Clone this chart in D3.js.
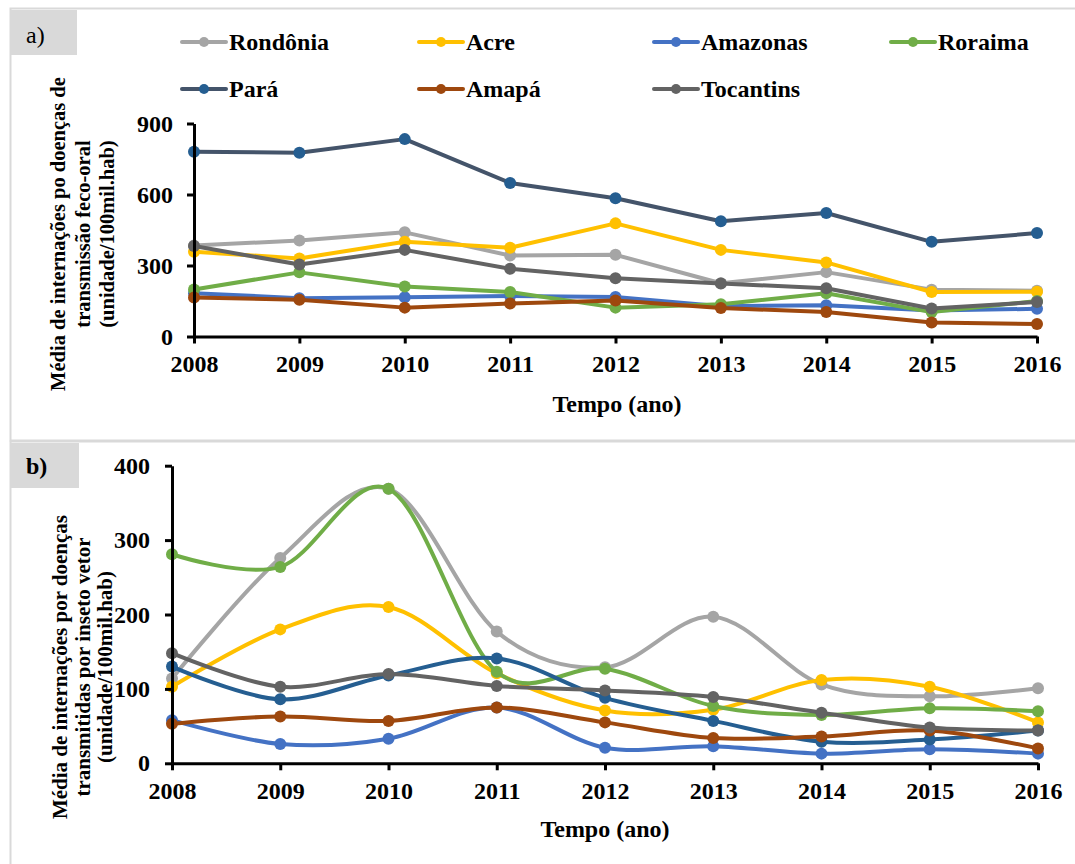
<!DOCTYPE html>
<html>
<head>
<meta charset="utf-8">
<script src="https://cdn.jsdelivr.net/npm/d3@7"></script>
<style>
  body { margin: 0; background: #fff; }
  text { font-family: "Liberation Serif", "Times New Roman", serif; }
</style>
</head>
<body>
<svg id="chart" width="1075" height="864"></svg>
<script>
// ---- data ----
const years = [2008, 2009, 2010, 2011, 2012, 2013, 2014, 2015, 2016];
const states = ["Rondônia", "Acre", "Amazonas", "Roraima", "Pará", "Amapá", "Tocantins"];
const lineColorsA = ["#A5A5A5", "#FFC000", "#4472C4", "#70AD47", "#44546A", "#9E480E", "#636363"];
const lineColorsB = ["#A5A5A5", "#FFC000", "#4472C4", "#70AD47", "#255E91", "#9E480E", "#636363"];
const markerColors = ["#A5A5A5", "#FFC000", "#4472C4", "#70AD47", "#255E91", "#9E480E", "#636363"];

// a) fecal-oral transmission, per 100k inhabitants
const fecoOralRondonia  = [384, 406, 440, 342, 345, 225, 272, 198, 193];
const fecoOralAcre      = [358, 330, 400, 375, 478, 366, 313, 188, 189];
const fecoOralAmazonas  = [183, 162, 166, 171, 167, 128, 132, 110, 117];
const fecoOralRoraima   = [199, 271, 211, 188, 122, 136, 183, 103, 150];
const fecoOralPara      = [781, 776, 834, 649, 584, 487, 522, 400, 437];
const fecoOralAmapa     = [165, 155, 122, 139, 152, 120, 104, 59, 53];
const fecoOralTocantins = [382, 304, 366, 286, 246, 224, 204, 118, 146];

// b) insect-vector transmission, per 100k inhabitants
const vetorRondonia  = [114, 276, 369, 177, 129, 197, 106, 90, 101];
const vetorAcre      = [103, 180, 210, 121, 71, 72, 112, 103, 55];
const vetorAmazonas  = [58, 26, 33, 75, 21, 23, 13, 19, 13];
const vetorRoraima   = [281, 264, 369, 123, 127, 77, 65, 74, 70];
const vetorPara      = [130, 86, 118, 141, 88, 57, 29, 32, 44];
const vetorAmapa     = [53, 63, 57, 75, 55, 34, 36, 44, 20];
const vetorTocantins = [148, 103, 120, 104, 98, 89, 68, 48, 44];

const ticksA = [0, 300, 600, 900];
const ticksB = [0, 100, 200, 300, 400];

const seriesA = [fecoOralRondonia, fecoOralAcre, fecoOralAmazonas, fecoOralRoraima,
                 fecoOralPara, fecoOralAmapa, fecoOralTocantins];
const seriesB = [vetorRondonia, vetorAcre, vetorAmazonas, vetorRoraima,
                 vetorPara, vetorAmapa, vetorTocantins];

const svg = d3.select("#chart");

// ---- panel frames ----
svg.append("rect").attr("x", 10.5).attr("y", 8.5).attr("width", 1080).attr("height", 432)
  .attr("fill", "none").attr("stroke", "#D9D9D9").attr("stroke-width", 2);
svg.append("rect").attr("x", 10.5).attr("y", 441.5).attr("width", 1080).attr("height", 440)
  .attr("fill", "none").attr("stroke", "#D9D9D9").attr("stroke-width", 2);

svg.append("rect").attr("x", 11).attr("y", 10).attr("width", 66).attr("height", 45).attr("fill", "#D9D9D9");
svg.append("text").attr("x", 26).attr("y", 43).attr("font-size", 24).text("a)");
svg.append("rect").attr("x", 11).attr("y", 443).attr("width", 68).attr("height", 45).attr("fill", "#D9D9D9");
svg.append("text").attr("x", 26).attr("y", 474).attr("font-size", 24).attr("font-weight", "bold").text("b)");

// ---- legend ----
const legendCols = [182, 419, 654, 891];
const legendRows = [42, 89];
const legend = svg.append("g");
states.forEach((s, i) => {
  const col = i < 4 ? i : i - 4;
  const row = i < 4 ? 0 : 1;
  const x0 = legendCols[col], y0 = legendRows[row];
  const g = legend.append("g").attr("transform", `translate(${x0},${y0})`);
  g.append("line").attr("x1", 0).attr("x2", 44).attr("y1", 0).attr("y2", 0)
    .attr("stroke", lineColorsA[i]).attr("stroke-width", 4).attr("stroke-linecap", "round");
  g.append("circle").attr("cx", 22).attr("cy", 0).attr("r", 5).attr("fill", markerColors[i]);
  g.append("text").attr("x", 47).attr("y", 8).attr("font-size", 24).attr("font-weight", "bold").text(s);
});

// ---- panel drawing ----
function drawPanel(opts) {
  const x = d3.scaleLinear().domain([2008, 2016]).range(opts.xRange);
  const y = d3.scaleLinear().domain(opts.yDomain).range(opts.yRange);
  const g = svg.append("g");

  const line = d3.line()
    .x((d, i) => x(years[i]))
    .y(d => y(d))
    .curve(opts.curve);

  opts.series.forEach((vals, i) => {
    g.append("path").datum(vals)
      .attr("d", line)
      .attr("fill", "none")
      .attr("stroke", opts.lineColors[i])
      .attr("stroke-width", 4)
      .attr("stroke-linejoin", "round");
    g.selectAll(null).data(vals).enter().append("circle")
      .attr("cx", (d, j) => x(years[j]))
      .attr("cy", d => y(d))
      .attr("r", 6)
      .attr("fill", markerColors[i]);
  });

  const xAxis = g.append("g").attr("transform", `translate(0,${opts.yRange[0]})`)
    .call(d3.axisBottom(x).tickValues(years).tickFormat(d3.format("d"))
      .tickSize(7).tickSizeOuter(0).tickPadding(opts.xTickPad));
  const yAxis = g.append("g").attr("transform", `translate(${opts.xRange[0]},0)`)
    .call(d3.axisLeft(y).tickValues(opts.yTicks).tickSize(7).tickSizeOuter(0).tickPadding(opts.yTickPad));

  [xAxis, yAxis].forEach(ax => {
    ax.select(".domain").attr("stroke", "#000").attr("stroke-width", 3);
    ax.selectAll(".tick line").attr("stroke", "#000").attr("stroke-width", 3);
    ax.selectAll(".tick text").attr("font-family", "Liberation Serif, Times New Roman, serif")
      .attr("font-size", 24).attr("font-weight", "bold").attr("fill", "#000");
  });

  g.append("text")
    .attr("x", opts.xTitlePos[0]).attr("y", opts.xTitlePos[1])
    .attr("text-anchor", "middle").attr("font-size", 24).attr("font-weight", "bold")
    .text("Tempo (ano)");

  opts.yTitle.forEach((t, k) => {
    g.append("text")
      .attr("transform", `translate(${opts.yTitleX[k]},${opts.yTitleY}) rotate(-90)`)
      .attr("text-anchor", "middle").attr("font-size", opts.yTitleSize).attr("font-weight", "bold")
      .text(t);
  });
}

drawPanel({
  series: seriesA,
  lineColors: lineColorsA,
  xRange: [194, 1037],
  yDomain: [0, 900],
  yRange: [336.5, 123.5],
  yTicks: ticksA,
  curve: d3.curveLinear,
  xTickPad: 11,
  yTickPad: 14,
  xTitlePos: [617, 412],
  yTitle: ["Média de internações po doenças de", "transmissão  feco-oral", "(unidade/100mil.hab)"],
  yTitleSize: 20.5,
  yTitleX: [65, 90, 114],
  yTitleY: 234
});

drawPanel({
  series: seriesB,
  lineColors: lineColorsB,
  xRange: [172, 1038],
  yDomain: [0, 400],
  yRange: [763.3, 465.7],
  yTicks: ticksB,
  curve: d3.curveCatmullRom.alpha(0),
  xTickPad: 12,
  yTickPad: 15,
  xTitlePos: [605, 837],
  yTitle: ["Média de internações por doenças", "transmitidas  por inseto vetor", "(unidade/100mil.hab)"],
  yTitleSize: 21,
  yTitleX: [67, 90, 112],
  yTitleY: 667
});
</script>
</body>
</html>
